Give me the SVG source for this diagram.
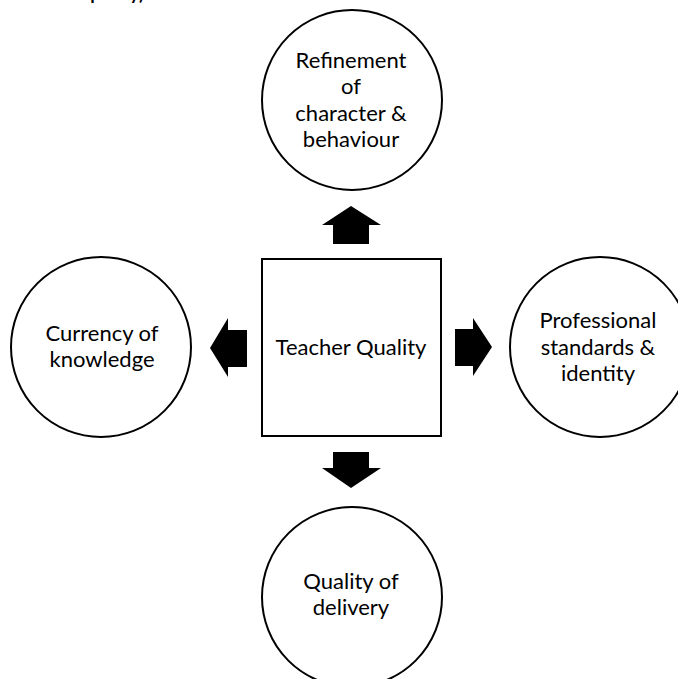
<svg xmlns="http://www.w3.org/2000/svg" width="678" height="679" viewBox="0 0 678 679">
<style>
.node{fill:#fff;stroke:#000;stroke-width:2}
.lbl{font-family:Lato,"Open Sans","Liberation Sans",sans-serif;font-size:22px;fill:#000;text-anchor:middle}
.arrow{fill:#000;stroke:none}
.cap{font-family:Lato,"Liberation Sans",sans-serif;font-size:18px;font-weight:bold;fill:#000}
</style>
<rect width="678" height="679" fill="#fff"/>
<text class="cap" x="20" y="-0.5">teacher quality)</text>
<g id="connectors">
<polygon class="arrow" points="351,206 381,225 369,225 369,244 333,244 333,225 322,225"/>
<polygon class="arrow" points="210,348 228,318 228,330 247,330 247,367 228,367 228,377"/>
<polygon class="arrow" points="492,347 473,318 473,329 455,329 455,366 473,366 473,376"/>
<polygon class="arrow" points="351,488 381,468 369,468 369,452 333,452 333,468 322,468"/>
</g>
<g id="teacher-quality">
<rect class="node" x="262" y="259" width="179" height="177"/>
<text class="lbl" x="351" y="355">Teacher Quality</text>
</g>
<g id="refinement">
<circle class="node" cx="352" cy="100" r="90"/>
<text class="lbl" x="351" y="68">Refinement</text>
<text class="lbl" x="351" y="94">of</text>
<text class="lbl" x="351" y="121">character &amp;</text>
<text class="lbl" x="351" y="147">behaviour</text>
</g>
<g id="currency">
<circle class="node" cx="101" cy="347" r="90"/>
<text class="lbl" x="102" y="341">Currency of</text>
<text class="lbl" x="102" y="367">knowledge</text>
</g>
<g id="professional">
<circle class="node" cx="600" cy="347" r="90"/>
<text class="lbl" x="598" y="328">Professional</text>
<text class="lbl" x="598" y="355">standards &amp;</text>
<text class="lbl" x="598" y="381">identity</text>
</g>
<g id="delivery">
<circle class="node" cx="352" cy="597" r="90"/>
<text class="lbl" x="351" y="589">Quality of</text>
<text class="lbl" x="351" y="615">delivery</text>
</g>
</svg>
